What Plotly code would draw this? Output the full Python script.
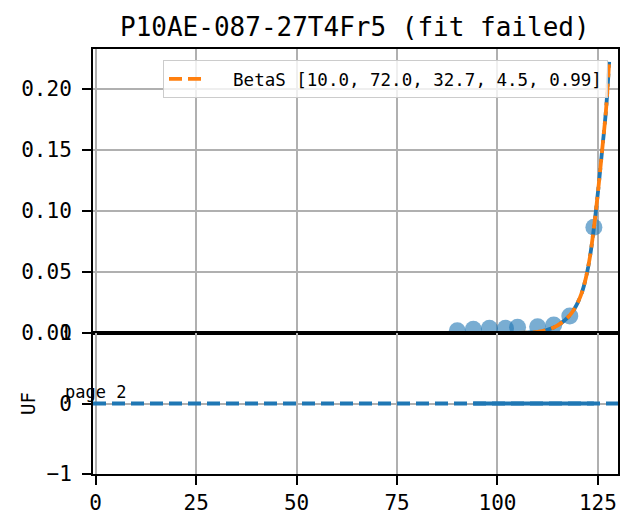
import plotly.graph_objects as go

# ---- data ----
pt_x = [90, 94, 98, 102, 105, 110, 114, 118, 124]
pt_y = [0.0019, 0.0030, 0.0038, 0.0038, 0.0047, 0.0052, 0.0066, 0.0139, 0.0866]

fit_x = [0, 20, 40, 60, 80, 100, 105, 108, 110, 112, 114, 116, 118, 119, 120, 121,
         122, 123, 124, 125, 126, 127, 127.8]
fit_y = [0, 0, 0, 0, 0, 0, 0.0001, 0.0004, 0.001, 0.0022, 0.0045, 0.0085, 0.0145,
         0.019, 0.025, 0.033, 0.045, 0.062, 0.086, 0.115, 0.148, 0.182, 0.222]

res_x = [94, 98, 102, 105, 110, 114, 118, 124]
res_y = [0, 0, 0, 0, 0, 0, 0, 0]

params = [10.0, 72.0, 32.7, 4.5, 0.99]
fit_name = "BetaS [" + ", ".join(str(p) for p in params) + "]"
title_text = "P10AE-087-27T4Fr5 (fit failed)"

top_ticks = [0.00, 0.05, 0.10, 0.15, 0.20]
bot_ticks = [-1, 0, 1]
x_ticks = [0, 25, 50, 75, 100, 125]

# ---- styling ----
FONT = "DejaVu Sans Mono"
BLUE = "#1f77b4"
ORANGE = "#ff7f0e"
GRID = "#b0b0b0"
OFF = 8  # page body margin of the html
W, H = 634 - OFF, 517 - OFF
ML, MT = 93 - OFF, 49 - OFF
MR = W - (618 - OFF)
MB = H - (474 - OFF)
PW, PH = W - ML - MR, H - MT - MB
split = 141 / PH


def px_x(page_x):
    return (page_x - OFF - ML) / PW


def px_y(page_y):
    return (H - MB - (page_y - OFF)) / PH


fig = go.Figure()
fig.add_trace(go.Scatter(x=pt_x, y=pt_y, mode="markers", xaxis="x", yaxis="y",
                         marker=dict(color=BLUE, size=17, opacity=0.6, line=dict(width=0)),
                         showlegend=False))
fig.add_trace(go.Scatter(x=fit_x, y=fit_y, mode="lines", xaxis="x", yaxis="y",
                         line=dict(color=BLUE, width=3.8, dash="4px,6px,9px,0px", shape="spline"),
                         showlegend=False))
fig.add_trace(go.Scatter(x=fit_x, y=fit_y, mode="lines", xaxis="x", yaxis="y",
                         name="\u00a0\u00a0" + fit_name,
                         line=dict(color=ORANGE, width=3.8, dash="13px,6px", shape="spline")))
fig.add_trace(go.Scatter(x=res_x, y=res_y, mode="lines", xaxis="x2", yaxis="y2",
                         line=dict(color=BLUE, width=3.8), showlegend=False))

fig.add_shape(type="line", xref="x2 domain", yref="y2", x0=0, x1=1, y0=0, y1=0,
              line=dict(color=BLUE, width=3.8, dash="13px,6px"))

axis_common = dict(showline=True, linecolor="black", linewidth=2, mirror=True,
                   showgrid=True, gridcolor=GRID, gridwidth=1.5, zeroline=False,
                   automargin=False,
                   tickfont=dict(family=FONT, size=21, color="black"))

fig.update_layout(
    width=W, height=H,
    margin=dict(l=ML, r=MR, t=MT, b=MB, autoexpand=False),
    plot_bgcolor="white", paper_bgcolor="white",
    xaxis=dict(domain=[0, 1], anchor="y", range=[-0.67, 130.0], tickvals=x_ticks,
               showticklabels=False, ticks="", **axis_common),
    yaxis=dict(domain=[split, 1], anchor="x", range=[0, 0.2325], tickvals=top_ticks,
               tickformat=".2f", ticks="outside", ticklen=9, tickwidth=2, tickcolor="black",
               ticklabelstandoff=6, **axis_common),
    xaxis2=dict(domain=[0, 1], anchor="y2", range=[-0.67, 130.0], tickvals=x_ticks,
                ticks="outside", ticklen=9, tickwidth=2, tickcolor="black",
                matches="x", **axis_common),
    yaxis2=dict(domain=[0, split], anchor="x2", range=[-1, 1], tickvals=bot_ticks,
                ticks="outside", ticklen=9, tickwidth=2, tickcolor="black",
                ticklabelstandoff=6, **axis_common),
    legend=dict(x=px_x(608), y=px_y(60),
                xanchor="right", yanchor="top", itemwidth=38,
                bgcolor="rgba(255,255,255,0.8)", bordercolor="#cccccc", borderwidth=1,
                font=dict(family=FONT, size=17.5, color="black")),
    annotations=[
        dict(text=title_text, xref="paper", yref="paper",
             x=px_x(355), y=px_y(27),
             xanchor="center", yanchor="middle", showarrow=False,
             font=dict(family=FONT, size=26, color="black")),
        dict(text="UF", xref="paper", yref="paper",
             x=px_x(28), y=px_y(404),
             xanchor="center", yanchor="middle", textangle=-90, showarrow=False,
             font=dict(family=FONT, size=19, color="black")),
        dict(text="page 2", xref="x2", yref="y2", x=0, y=0,
             xanchor="center", yanchor="bottom", showarrow=False,
             font=dict(family=FONT, size=17, color="black")),
    ],
)

fig.write_html("out.html")
